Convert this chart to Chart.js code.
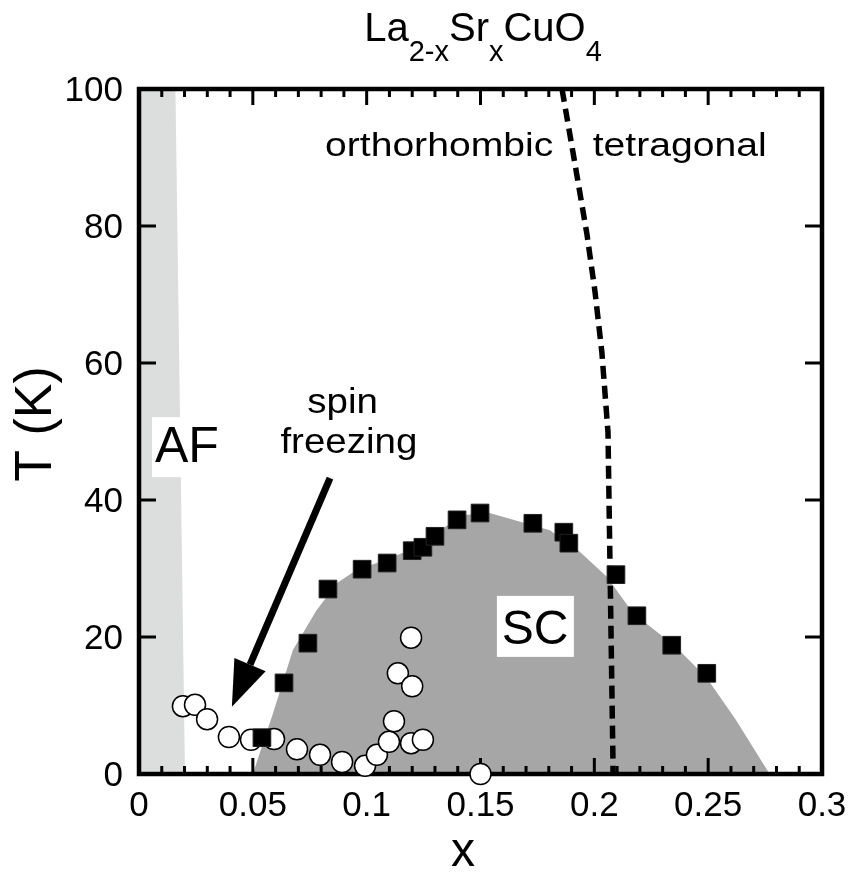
<!DOCTYPE html>
<html>
<head>
<meta charset="utf-8">
<script src="https://cdn.jsdelivr.net/npm/chart.js@4.4.1/dist/chart.umd.min.js"></script>
<style>
  html, body { margin: 0; padding: 0; background: #fff; }
  #phase { display: block; }
</style>
</head>
<body>
<canvas id="phase" width="856" height="872"></canvas>
<script>
// superconducting Tc (black squares)
const tcX = [0.054, 0.0637, 0.0742, 0.083, 0.098, 0.109, 0.12, 0.1247, 0.13, 0.1397,
             0.1498, 0.173, 0.1866, 0.1888, 0.2095, 0.2187, 0.234, 0.2494];
const tcT = [5.3, 13.3, 19.1, 27.0, 29.9, 30.8, 32.6, 33.1, 34.7, 37.1,
             38.1, 36.6, 35.3, 33.7, 29.1, 23.1, 18.8, 14.7];

// spin freezing temperatures (open circles)
const sfX = [0.0193, 0.0246, 0.0299, 0.0395, 0.0492, 0.0593, 0.0694, 0.0795, 0.0892, 0.0993,
             0.1045, 0.1098, 0.112, 0.1137, 0.1195, 0.12, 0.1195, 0.1247, 0.15];
const sfT = [9.9, 10.1, 8.0, 5.4, 5.0, 5.1, 3.6, 2.8, 1.75, 1.2,
             2.8, 4.7, 7.7, 14.7, 19.9, 12.8, 4.5, 5.0, 0];

// SC dome outline
const scX = [0.05, 0.0589, 0.0676, 0.078, 0.087, 0.0957, 0.106, 0.119, 0.132, 0.143,
             0.154, 0.1805, 0.1937, 0.2055, 0.217, 0.236, 0.2494, 0.262, 0.277];
const scT = [0, 8.9, 18.1, 23.9, 27.9, 29.8, 31.0, 32.7, 35.6, 37.8,
             38.1, 35.6, 32.4, 28.8, 23.5, 18.5, 14.0, 8.0, 0];

// AF region (right edge)
const afX = [0, 0.016, 0.0202];
const afT = [100, 100, 0];

// orthorhombic / tetragonal boundary
const otX = [0.1858, 0.1906, 0.1968, 0.2003, 0.2033, 0.206, 0.2068, 0.2082, 0.2082];
const otT = [100, 90.8, 78.7, 70.4, 61.6, 49.9, 32.3, 1.6, 0];

// axes
const xMajor = [0, 0.05, 0.1, 0.15, 0.2, 0.25, 0.3];
const xLabels = ['0', '0.05', '0.1', '0.15', '0.2', '0.25', '0.3'];
const yMajor = [0, 20, 40, 60, 80, 100];

const FONT = '"Liberation Sans", Arial, Helvetica, sans-serif';

function pts(xs, ys) {
  return xs.map((x, i) => ({ x: x, y: ys[i] }));
}

function text(ctx, str, x, y, size, align, sx) {
  ctx.save();
  ctx.font = size + 'px ' + FONT;
  ctx.fillStyle = '#000';
  ctx.textAlign = align || 'center';
  ctx.textBaseline = 'alphabetic';
  ctx.translate(x, y);
  ctx.scale(sx || 1, 1);
  ctx.fillText(str, 0, 0);
  ctx.restore();
}

// frame + inward ticks, drawn after the dashed line and before the markers
const framePlugin = {
  id: 'frame',
  afterDatasetDraw(chart, args) {
    if (args.index !== 2) return;
    const ctx = chart.ctx;
    const a = chart.chartArea;
    const xs = chart.scales.x, ys = chart.scales.y;
    ctx.save();
    ctx.strokeStyle = '#000';
    ctx.lineWidth = 3;
    ctx.beginPath();
    for (let i = 0; i <= 30; i++) {
      const px = xs.getPixelForValue(i / 100);
      const len = i % 5 === 0 ? 16 : 8;
      ctx.moveTo(px, a.bottom); ctx.lineTo(px, a.bottom - len);
      ctx.moveTo(px, a.top); ctx.lineTo(px, a.top + len);
    }
    yMajor.forEach(v => {
      const py = ys.getPixelForValue(v);
      ctx.moveTo(a.left, py); ctx.lineTo(a.left + 17, py);
      ctx.moveTo(a.right, py); ctx.lineTo(a.right - 17, py);
    });
    ctx.stroke();
    ctx.lineWidth = 4.5;
    ctx.strokeRect(a.left, a.top, a.right - a.left, a.bottom - a.top);
    ctx.restore();
  }
};

// tick labels, titles and annotations
const textPlugin = {
  id: 'labels',
  afterDatasetsDraw(chart) {
    const ctx = chart.ctx;
    const a = chart.chartArea;
    const xs = chart.scales.x, ys = chart.scales.y;
    const X = v => xs.getPixelForValue(v);
    const Y = v => ys.getPixelForValue(v);

    xMajor.forEach((v, i) => text(ctx, xLabels[i], X(v), a.bottom + 42, 35, 'center'));
    yMajor.forEach(v => text(ctx, String(v), a.left - 16, Y(v) + 12, 35, 'right'));

    // axis titles
    text(ctx, 'x', 463, 866, 48, 'center');
    ctx.save();
    ctx.translate(37, 424);
    ctx.rotate(-Math.PI / 2);
    ctx.font = '52px ' + FONT;
    ctx.textAlign = 'center';
    ctx.textBaseline = 'middle';
    ctx.fillStyle = '#000';
    ctx.fillText('T (K)', 0, 0);
    ctx.restore();

    // chemical formula title with subscripts
    const parts = [['La', 0], ['2-x', 1], ['Sr', 0], ['x', 1], ['CuO', 0], ['4', 1]];
    const big = 40, small = 29;
    let total = 0;
    parts.forEach(p => {
      ctx.font = (p[1] ? small : big) + 'px ' + FONT;
      total += ctx.measureText(p[0]).width;
    });
    let cx = 483 - total / 2;
    parts.forEach(p => {
      ctx.font = (p[1] ? small : big) + 'px ' + FONT;
      const w = ctx.measureText(p[0]).width;
      text(ctx, p[0], cx, p[1] ? 61 : 41, p[1] ? small : big, 'left');
      cx += w;
    });

    // AF label on white patch
    ctx.save();
    ctx.font = '50px ' + FONT;
    const afW = ctx.measureText('AF').width;
    ctx.fillStyle = '#fff';
    ctx.fillRect(X(0.0057), Y(52.1), afW + 6, 60);
    ctx.restore();
    text(ctx, 'AF', X(0.007), Y(45.5), 50, 'left');

    // SC label on white patch
    ctx.save();
    ctx.fillStyle = '#fff';
    ctx.fillRect(X(0.1572), Y(26.0), 77, 61);
    ctx.restore();
    text(ctx, 'SC', X(0.174), Y(21.5) + 17, 48, 'center');

    text(ctx, 'spin', X(0.0894), Y(52.7), 35, 'center', 1.1);
    text(ctx, 'freezing', X(0.0922), Y(46.9), 35, 'center', 1.1);
    text(ctx, 'orthorhombic', X(0.0817), Y(90.2), 34, 'left', 1.15);
    text(ctx, 'tetragonal', X(0.1993), Y(90.2), 34, 'left', 1.15);

    // arrow toward the spin freezing points
    const x0 = X(0.0839), y0 = Y(43.2), x1 = X(0.0408), y1 = Y(9.8);
    const ang = Math.atan2(y1 - y0, x1 - x0);
    const headL = 46, headW = 17;
    const bx = x1 - headL * Math.cos(ang), by = y1 - headL * Math.sin(ang);
    ctx.save();
    ctx.strokeStyle = '#000';
    ctx.fillStyle = '#000';
    ctx.lineWidth = 7;
    ctx.beginPath();
    ctx.moveTo(x0, y0);
    ctx.lineTo(bx, by);
    ctx.stroke();
    ctx.beginPath();
    ctx.moveTo(x1, y1);
    ctx.lineTo(bx + headW * Math.sin(ang), by - headW * Math.cos(ang));
    ctx.lineTo(bx - headW * Math.sin(ang), by + headW * Math.cos(ang));
    ctx.closePath();
    ctx.fill();
    ctx.restore();
  }
};

const chart = new Chart(document.getElementById('phase').getContext('2d'), {
  type: 'scatter',
  data: {
    datasets: [
      {
        label: 'Tc',
        data: pts(tcX, tcT),
        pointStyle: 'rect',
        pointRadius: 12.5,
        backgroundColor: '#000',
        borderColor: '#222',
        borderWidth: 1,
        order: 1,
        clip: false
      },
      {
        label: 'spin freezing',
        data: pts(sfX, sfT),
        pointStyle: 'circle',
        pointRadius: 10.5,
        backgroundColor: '#fff',
        borderColor: '#000',
        borderWidth: 1.5,
        order: 2,
        clip: false
      },
      {
        label: 'ortho/tetra',
        type: 'line',
        data: pts(otX, otT),
        borderColor: '#000',
        borderWidth: 5.5,
        borderDash: [13, 7],
        borderCapStyle: 'butt',
        pointRadius: 0,
        fill: false,
        order: 3
      },
      {
        label: 'SC',
        type: 'line',
        data: pts(scX, scT),
        borderColor: 'rgba(0,0,0,0)',
        borderWidth: 0,
        backgroundColor: '#a6a6a6',
        pointRadius: 0,
        fill: 'origin',
        order: 4
      },
      {
        label: 'AF',
        type: 'line',
        data: pts(afX, afT),
        borderColor: 'rgba(0,0,0,0)',
        borderWidth: 0,
        backgroundColor: '#dcdddd',
        pointRadius: 0,
        fill: 'origin',
        order: 5
      }
    ]
  },
  options: {
    responsive: false,
    animation: false,
    layout: { padding: { left: 139, right: 34, top: 89, bottom: 98 } },
    scales: {
      x: { type: 'linear', min: 0, max: 0.3, display: false },
      y: { type: 'linear', min: 0, max: 100, display: false }
    },
    plugins: {
      legend: { display: false },
      tooltip: { enabled: false }
    }
  },
  plugins: [framePlugin, textPlugin]
});
</script>
</body>
</html>
